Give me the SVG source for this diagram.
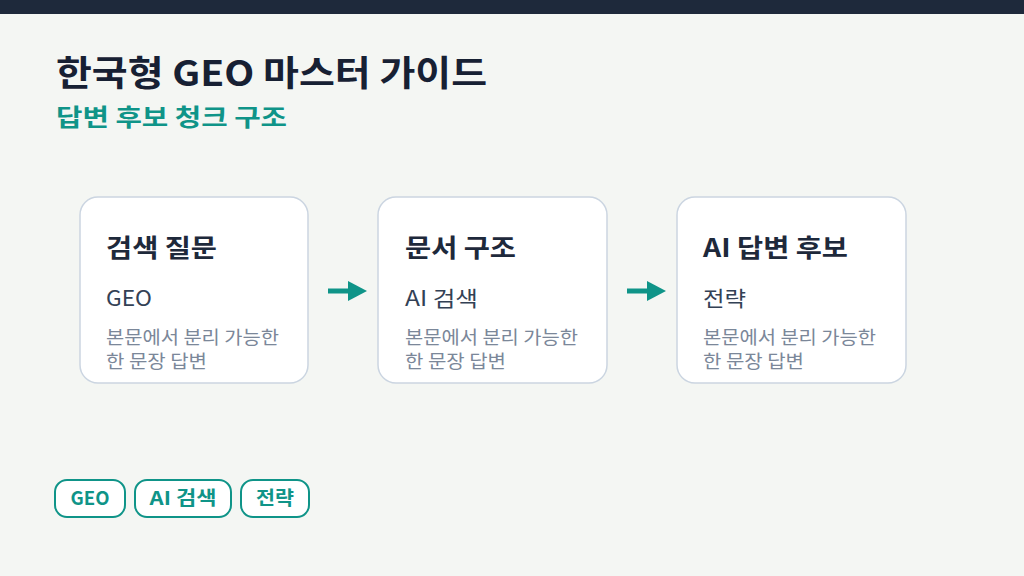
<svg xmlns="http://www.w3.org/2000/svg" width="1024" height="576" viewBox="0 0 1024 576">
<defs>
<style>
text{font-family:"Noto Sans CJK KR","Noto Sans",sans-serif}
.title{font-size:35px;font-weight:700;fill:#172033}
.sub{font-size:24px;font-weight:700;fill:#0f9488}
.card{fill:#ffffff;stroke:#cbd5e1;stroke-width:1.5}
.ct{font-size:25px;font-weight:700;fill:#1e293b}
.ck{font-size:21px;fill:#334155}
.cd{font-size:18px;fill:#7b8799}
.tag{fill:#ffffff;stroke:#0f9488;stroke-width:2}
.tt{font-size:19px;font-weight:700;fill:#0f9488;text-anchor:middle}
.conn{stroke:#0f9488;stroke-width:5;fill:none}
</style>
<marker id="ah" markerWidth="19" markerHeight="20" refX="0" refY="10" orient="auto" markerUnits="userSpaceOnUse">
<path d="M0,0 L19,10 L0,20 Z" fill="#0f9488"/>
</marker>
</defs>
<rect x="0" y="0" width="1024" height="576" fill="#f4f6f3"/>
<rect x="0" y="0" width="1024" height="14" fill="#1e293b"/>
<text class="title" x="56" y="86" textLength="431" lengthAdjust="spacingAndGlyphs">한국형 GEO 마스터 가이드</text>
<text class="sub" x="56" y="126" textLength="231" lengthAdjust="spacingAndGlyphs">답변 후보 청크 구조</text>
<g id="connectors">
<line class="conn" x1="328" y1="291" x2="348" y2="291" marker-end="url(#ah)"/>
<line class="conn" x1="627" y1="291" x2="647" y2="291" marker-end="url(#ah)"/>
</g>
<g id="node1">
<rect class="card" x="80" y="197" width="228" height="186" rx="18"/>
<text class="ct" x="106" y="257" textLength="111" lengthAdjust="spacingAndGlyphs">검색 질문</text>
<text class="ck" x="106" y="306" textLength="46" lengthAdjust="spacingAndGlyphs">GEO</text>
<text class="cd" x="106" y="344" textLength="173" lengthAdjust="spacingAndGlyphs">본문에서 분리 가능한</text>
<text class="cd" x="106" y="368" textLength="101" lengthAdjust="spacingAndGlyphs">한 문장 답변</text>
</g>
<g id="node2">
<rect class="card" x="378" y="197" width="229" height="186" rx="18"/>
<text class="ct" x="405" y="257" textLength="111" lengthAdjust="spacingAndGlyphs">문서 구조</text>
<text class="ck" x="405" y="306" textLength="73" lengthAdjust="spacingAndGlyphs">AI 검색</text>
<text class="cd" x="405" y="344" textLength="173" lengthAdjust="spacingAndGlyphs">본문에서 분리 가능한</text>
<text class="cd" x="405" y="368" textLength="101" lengthAdjust="spacingAndGlyphs">한 문장 답변</text>
</g>
<g id="node3">
<rect class="card" x="677" y="197" width="229" height="186" rx="18"/>
<text class="ct" x="703" y="257" textLength="145" lengthAdjust="spacingAndGlyphs">AI 답변 후보</text>
<text class="ck" x="703" y="306" textLength="43" lengthAdjust="spacingAndGlyphs">전략</text>
<text class="cd" x="703" y="344" textLength="173" lengthAdjust="spacingAndGlyphs">본문에서 분리 가능한</text>
<text class="cd" x="703" y="368" textLength="101" lengthAdjust="spacingAndGlyphs">한 문장 답변</text>
</g>
<g id="tag1">
<rect class="tag" x="55" y="480" width="70" height="37" rx="12"/>
<text class="tt" x="90" y="505" textLength="39" lengthAdjust="spacingAndGlyphs">GEO</text>
</g>
<g id="tag2">
<rect class="tag" x="135" y="480" width="96" height="37" rx="12"/>
<text class="tt" x="183" y="505" textLength="67" lengthAdjust="spacingAndGlyphs">AI 검색</text>
</g>
<g id="tag3">
<rect class="tag" x="241" y="480" width="68" height="37" rx="12"/>
<text class="tt" x="275" y="505" textLength="38" lengthAdjust="spacingAndGlyphs">전략</text>
</g>
</svg>
